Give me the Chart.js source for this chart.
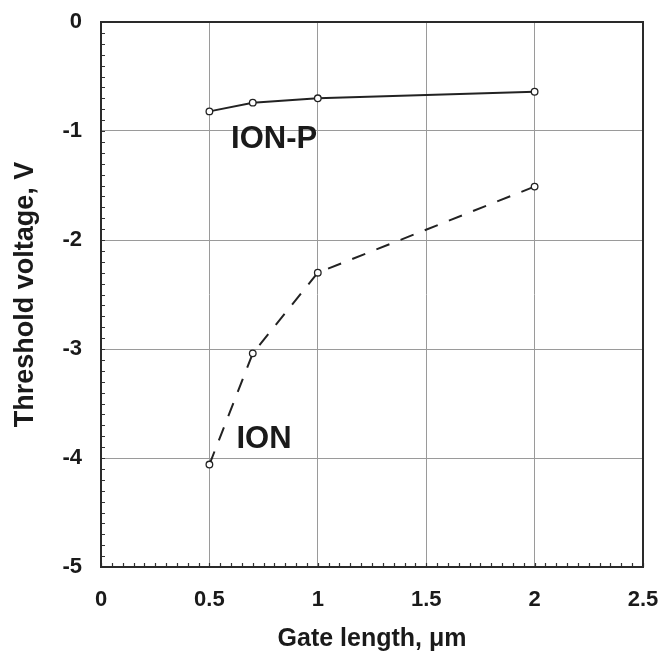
<!DOCTYPE html>
<html>
<head>
<meta charset="utf-8">
<script src="https://cdn.jsdelivr.net/npm/chart.js@4.4.0/dist/chart.umd.min.js"></script>
<style>
  html, body { margin: 0; padding: 0; background: #fff; }
  #wrap { width: 664px; height: 658px; }
</style>
</head>
<body>
<div id="wrap"><canvas id="vtChart" width="664" height="658"></canvas></div>
<script>
// gate length (um) and threshold voltage (V)
var gateLen = [0.5, 0.7, 1.0, 2.0];
var vtIonP = [-0.82, -0.74, -0.70, -0.64];
var vtIon = [-4.06, -3.04, -2.30, -1.51];
var xTicks = [0, 0.5, 1, 1.5, 2, 2.5];
var yTicks = [-5, -4, -3, -2, -1, 0];

var FONT = '"Liberation Sans", Arial, Helvetica, sans-serif';
var INK = '#1a1a1a';

function pts(ys) {
    return gateLen.map(function (x, i) { return { x: x, y: ys[i] }; });
}

// frame, minor ticks and in-plot labels
var decor = {
    id: 'decor',
    afterDatasetsDraw: function (chart) {
        var c = chart.ctx, a = chart.chartArea;
        var xs = chart.scales.x, ys = chart.scales.y;
        c.save();
        c.strokeStyle = '#333';
        c.lineWidth = 1.2;
        c.beginPath();
        for (var v = -5; v <= 0.001; v += 0.1) {
            var py = Math.round(ys.getPixelForValue(v)) + 0.5;
            c.moveTo(a.left, py); c.lineTo(a.left + 4, py);
        }
        for (var u = 0; u <= 2.501; u += 0.05) {
            var px = Math.round(xs.getPixelForValue(u)) + 0.5;
            c.moveTo(px, a.bottom); c.lineTo(px, a.bottom - 4);
        }
        c.stroke();
        c.strokeStyle = '#2a2a2a';
        c.lineWidth = 2;
        c.strokeRect(a.left, a.top, a.right - a.left, a.bottom - a.top);

        c.fillStyle = INK;
        c.font = 'bold 31px ' + FONT;
        c.textAlign = 'left';
        c.textBaseline = 'middle';
        c.fillText('ION-P', xs.getPixelForValue(0.60), ys.getPixelForValue(-1.08));
        c.fillText('ION', xs.getPixelForValue(0.625), ys.getPixelForValue(-3.83));
        c.restore();
    }
};

var ctx = document.getElementById('vtChart').getContext('2d');
var vtChart = new Chart(ctx, {
    type: 'scatter',
    data: {
        datasets: [{
            label: 'ION-P',
            data: pts(vtIonP),
            showLine: true,
            borderColor: '#222',
            borderWidth: 2,
            pointRadius: 3.3,
            pointBorderWidth: 1.3,
            pointBackgroundColor: '#fff',
            pointBorderColor: '#222'
        }, {
            label: 'ION',
            data: pts(vtIon),
            showLine: true,
            borderColor: '#222',
            borderWidth: 2,
            borderDash: [14, 12],
            pointRadius: 3.3,
            pointBorderWidth: 1.3,
            pointBackgroundColor: '#fff',
            pointBorderColor: '#222'
        }]
    },
    options: {
        responsive: false,
        animation: false,
        layout: { padding: { top: 22, right: 21, left: 0, bottom: 0 } },
        plugins: {
            legend: { display: false },
            tooltip: { enabled: false }
        },
        scales: {
            x: {
                type: 'linear',
                min: 0,
                max: 2.5,
                afterBuildTicks: function (s) { s.ticks = xTicks.map(function (v) { return { value: v }; }); },
                afterFit: function (s) {
                    s.height = 91;
                    s.paddingLeft = 0; s.paddingRight = 0;
                },
                ticks: {
                    color: INK, padding: 20,
                    font: { family: FONT, size: 22, weight: 'bold' },
                    callback: function (v) { return String(v); }
                },
                grid: { color: '#9a9a9a', lineWidth: 1, drawTicks: false },
                border: { display: false },
                title: {
                    display: true,
                    text: 'Gate length, \u03bcm',
                    color: INK,
                    font: { family: FONT, size: 25, weight: 'bold' },
                    padding: { top: 0, bottom: 4 }
                }
            },
            y: {
                type: 'linear',
                min: -5,
                max: 0,
                afterBuildTicks: function (s) { s.ticks = yTicks.map(function (v) { return { value: v }; }); },
                afterFit: function (s) {
                    s.width = 101;
                    s.paddingTop = 0; s.paddingBottom = 0;
                },
                ticks: {
                    color: INK, padding: 19,
                    font: { family: FONT, size: 22, weight: 'bold' },
                    callback: function (v) { return String(v); }
                },
                grid: { color: '#9a9a9a', lineWidth: 1, drawTicks: false },
                border: { display: false },
                title: {
                    display: true,
                    text: 'Threshold voltage, V',
                    color: INK,
                    font: { family: FONT, size: 27, weight: 'bold' },
                    padding: { top: 9, bottom: 0 }
                }
            }
        }
    },
    plugins: [decor]
});
</script>
</body>
</html>
